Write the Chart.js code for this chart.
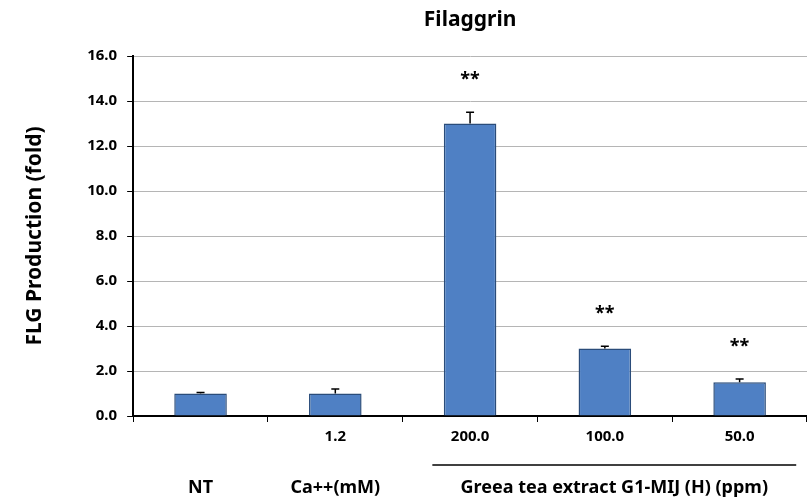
<!DOCTYPE html>
<html>
<head>
  <title>Filaggrin</title>
  <script src="https://cdn.jsdelivr.net/npm/chart.js@4/dist/chart.umd.min.js"></script>
  <style>
    body { margin: 0; background: #fff; }
    #wrap { width: 807px; height: 501px; }
  </style>
</head>
<body>
<div id="wrap"><canvas id="myChart" width="807" height="501"></canvas></div>
<script>
  // Values
  const doseLabels = ['', '1.2', '200.0', '100.0', '50.0'];
  const flgValues = [1.0, 1.0, 13.0, 3.0, 1.5];
  const flgErrors = [0.05, 0.2, 0.5, 0.1, 0.15];
  const stars = ['', '', '**', '**', '**'];
  const groupNames = ['NT', 'Ca++(mM)'];
  const teaGroup = 'Greea tea extract G1-MIJ (H) (ppm)';
  const chartTitle = 'Filaggrin';

  const FONT = "'Noto Sans', 'DejaVu Sans', sans-serif";

  // title over the plot, error bars, asterisks and the grouped labels under the axis
  const extras = {
    id: 'extras',
    afterDatasetsDraw(chart) {
      const ctx = chart.ctx;
      const meta = chart.getDatasetMeta(0);
      const area = chart.chartArea;
      const x = chart.scales.x;
      const y = chart.scales.y;
      ctx.save();
      ctx.strokeStyle = '#000';
      ctx.fillStyle = '#000';
      ctx.textAlign = 'center';
      ctx.textBaseline = 'middle';

      ctx.font = 'bold 21px ' + FONT;
      ctx.fillText(chartTitle, (area.left + area.right) / 2, 20);

      ctx.lineWidth = 1.5;
      meta.data.forEach((bar, i) => {
        const top = y.getPixelForValue(flgValues[i] + flgErrors[i]);
        ctx.beginPath();
        ctx.moveTo(bar.x, bar.y);
        ctx.lineTo(bar.x, top);
        ctx.moveTo(bar.x - 4, top);
        ctx.lineTo(bar.x + 4, top);
        ctx.stroke();
        if (stars[i]) {
          ctx.font = 'bold 18px ' + FONT;
          ctx.fillText(stars[i], bar.x, top - 32);
        }
      });

      // bottom row
      const rowY = 488;
      ctx.font = 'bold 18px ' + FONT;
      groupNames.forEach((name, i) => {
        ctx.fillText(name, x.getPixelForValue(i), rowY);
      });
      const catW = x.getPixelForValue(1) - x.getPixelForValue(0);
      const x1 = x.getPixelForValue(2) - 0.28 * catW;
      const x2 = x.getPixelForValue(4) + 0.42 * catW;
      ctx.lineWidth = 1.5;
      ctx.beginPath();
      ctx.moveTo(x1, 465);
      ctx.lineTo(x2, 465);
      ctx.stroke();
      ctx.fillText(teaGroup, (x1 + x2) / 2, rowY);
      ctx.restore();
    }
  };

  new Chart(document.getElementById('myChart'), {
    type: 'bar',
    data: {
      labels: doseLabels,
      datasets: [{
        data: flgValues,
        backgroundColor: '#4f80c4',
        borderColor: '#2a4c7a',
        borderWidth: 1.5,
        barPercentage: 0.39,
        categoryPercentage: 1.0
      }]
    },
    options: {
      responsive: false,
      animation: false,
      layout: { padding: { left: 22, right: 0, top: 56, bottom: 49 } },
      plugins: {
        legend: { display: false },
        tooltip: { enabled: false },
        title: { display: false }
      },
      scales: {
        x: {
          grid: { drawOnChartArea: false, tickColor: '#000', tickLength: 6, offset: true },
          border: { color: '#000', width: 2 },
          ticks: { color: '#000', font: { family: FONT, size: 15, weight: 'bold' }, padding: 6 }
        },
        y: {
          min: 0,
          max: 16,
          grid: { color: '#b5b5b5', tickColor: '#000', tickLength: 6 },
          border: { color: '#000', width: 2 },
          ticks: {
            stepSize: 2,
            color: '#000',
            font: { family: FONT, size: 15, weight: 'bold' },
            padding: 10,
            callback: v => v.toFixed(1)
          },
          title: {
            display: true,
            text: 'FLG Production (fold)',
            color: '#000',
            font: { family: FONT, size: 21, weight: 'bold' },
            padding: { top: 0, bottom: 30 }
          }
        }
      }
    },
    plugins: [extras]
  });
</script>
</body>
</html>
